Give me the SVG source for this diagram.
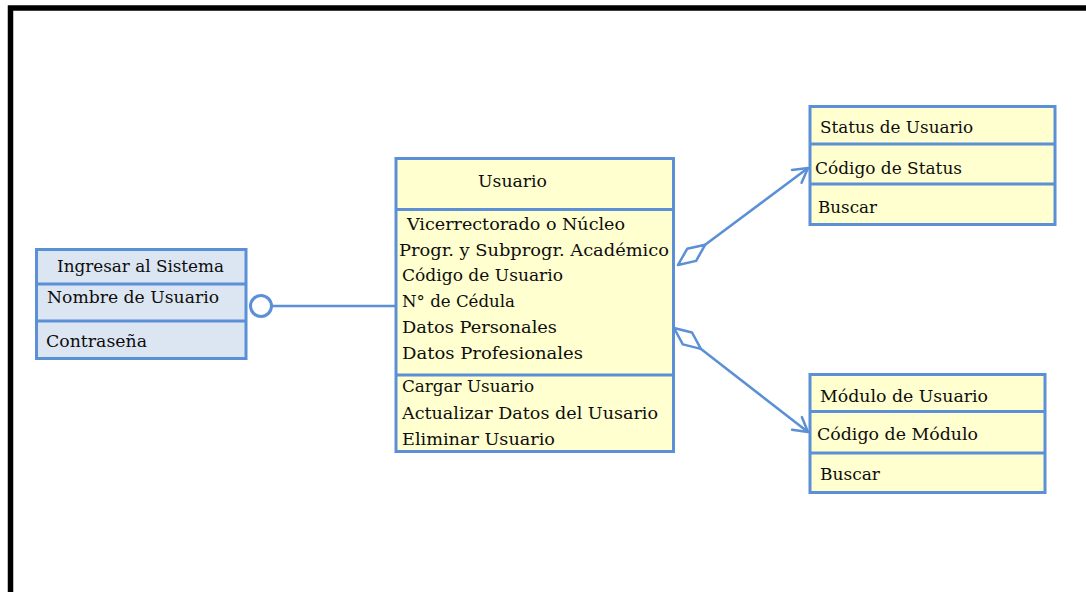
<svg xmlns="http://www.w3.org/2000/svg" width="1086" height="592" viewBox="0 0 1086 592">
  <style>
    .box { stroke: #5b8fd6; stroke-width: 3; }
    .blue { fill: #dce6f2; }
    .yellow { fill: #ffffcf; }
    .div { stroke: #5b8fd6; stroke-width: 3; fill: none; }
    .t { font-family: "DejaVu Serif", "Liberation Serif", serif; font-size: 17.5px; fill: #0d0d0d; }
    .link { stroke: #5b8fd6; stroke-width: 2.5; fill: none; }
  </style>
  <defs>
    <marker id="diamond" markerUnits="userSpaceOnUse" markerWidth="40" markerHeight="20" viewBox="-2 -10 40 20" refX="0" refY="0" orient="auto">
      <path d="M0,0 L17,-7.5 L34,0 L17,7.5 Z" fill="#ffffff" stroke="#5b8fd6" stroke-width="2.5" stroke-linejoin="round"/>
    </marker>
    <marker id="arrow" markerUnits="userSpaceOnUse" markerWidth="20" markerHeight="20" viewBox="-18 -10 20 20" refX="0" refY="0" orient="auto">
      <path d="M-14,-8 L0,0 L-14,8" fill="none" stroke="#5b8fd6" stroke-width="2.5" stroke-linejoin="round" stroke-linecap="round"/>
    </marker>
  </defs>

  <rect width="1086" height="592" fill="#ffffff"/>
  <!-- page frame -->
  <path d="M10.5,592 V8 H1086" fill="none" stroke="#000000" stroke-width="5.5"/>

  <g id="connectors">
    <line class="link" x1="272" y1="306" x2="396" y2="306"/>
    <circle cx="261" cy="306" r="10.5" fill="#ffffff" stroke="#5b8fd6" stroke-width="3"/>
    <path class="link" d="M678,265 L808,168" marker-start="url(#diamond)" marker-end="url(#arrow)"/>
    <path class="link" d="M674,328 L808,432" marker-start="url(#diamond)" marker-end="url(#arrow)"/>
  </g>

  <g id="ingresar">
    <rect class="box blue" x="36.5" y="249.5" width="209.5" height="109"/>
    <line class="div" x1="36.5" y1="284" x2="246" y2="284"/>
    <line class="div" x1="36.5" y1="321" x2="246" y2="321"/>
    <text class="t" x="57" y="272" textLength="167" lengthAdjust="spacingAndGlyphs">Ingresar al Sistema</text>
    <text class="t" x="47" y="303" textLength="172" lengthAdjust="spacingAndGlyphs">Nombre de Usuario</text>
    <text class="t" x="46" y="347" textLength="101" lengthAdjust="spacingAndGlyphs">Contraseña</text>
  </g>

  <g id="usuario">
    <rect class="box yellow" x="396" y="158.5" width="277.5" height="293"/>
    <line class="div" x1="396" y1="209.5" x2="673.5" y2="209.5"/>
    <line class="div" x1="396" y1="375" x2="673.5" y2="375" stroke-width="4"/>
    <text class="t" x="478" y="187" textLength="69" lengthAdjust="spacingAndGlyphs">Usuario</text>
    <text class="t" x="407" y="230" textLength="218" lengthAdjust="spacingAndGlyphs">Vicerrectorado o Núcleo</text>
    <text class="t" x="399" y="256" textLength="270" lengthAdjust="spacingAndGlyphs">Progr. y Subprogr. Académico</text>
    <text class="t" x="402" y="281" textLength="161" lengthAdjust="spacingAndGlyphs">Código de Usuario</text>
    <text class="t" x="402" y="307" textLength="113" lengthAdjust="spacingAndGlyphs">N° de Cédula</text>
    <text class="t" x="402" y="333" textLength="155" lengthAdjust="spacingAndGlyphs">Datos Personales</text>
    <text class="t" x="402" y="359" textLength="181" lengthAdjust="spacingAndGlyphs">Datos Profesionales</text>
    <text class="t" x="402" y="392" textLength="132" lengthAdjust="spacingAndGlyphs">Cargar Usuario</text>
    <text class="t" x="402" y="419" textLength="256" lengthAdjust="spacingAndGlyphs">Actualizar Datos del Uusario</text>
    <text class="t" x="402" y="445" textLength="153" lengthAdjust="spacingAndGlyphs">Eliminar Usuario</text>
  </g>

  <g id="status">
    <rect class="box yellow" x="810" y="106.5" width="245" height="118"/>
    <line class="div" x1="810" y1="144" x2="1055" y2="144"/>
    <line class="div" x1="810" y1="184" x2="1055" y2="184"/>
    <text class="t" x="820" y="133" textLength="153" lengthAdjust="spacingAndGlyphs">Status de Usuario</text>
    <text class="t" x="815" y="174" textLength="147" lengthAdjust="spacingAndGlyphs">Código de Status</text>
    <text class="t" x="818" y="213" textLength="59" lengthAdjust="spacingAndGlyphs">Buscar</text>
  </g>

  <g id="modulo">
    <rect class="box yellow" x="810" y="374.5" width="235" height="118"/>
    <line class="div" x1="810" y1="411.5" x2="1045" y2="411.5"/>
    <line class="div" x1="810" y1="453" x2="1045" y2="453" stroke-width="4"/>
    <text class="t" x="820" y="402" textLength="168" lengthAdjust="spacingAndGlyphs">Módulo de Usuario</text>
    <text class="t" x="817" y="440" textLength="161" lengthAdjust="spacingAndGlyphs">Código de Módulo</text>
    <text class="t" x="820" y="480" textLength="60" lengthAdjust="spacingAndGlyphs">Buscar</text>
  </g>
</svg>
